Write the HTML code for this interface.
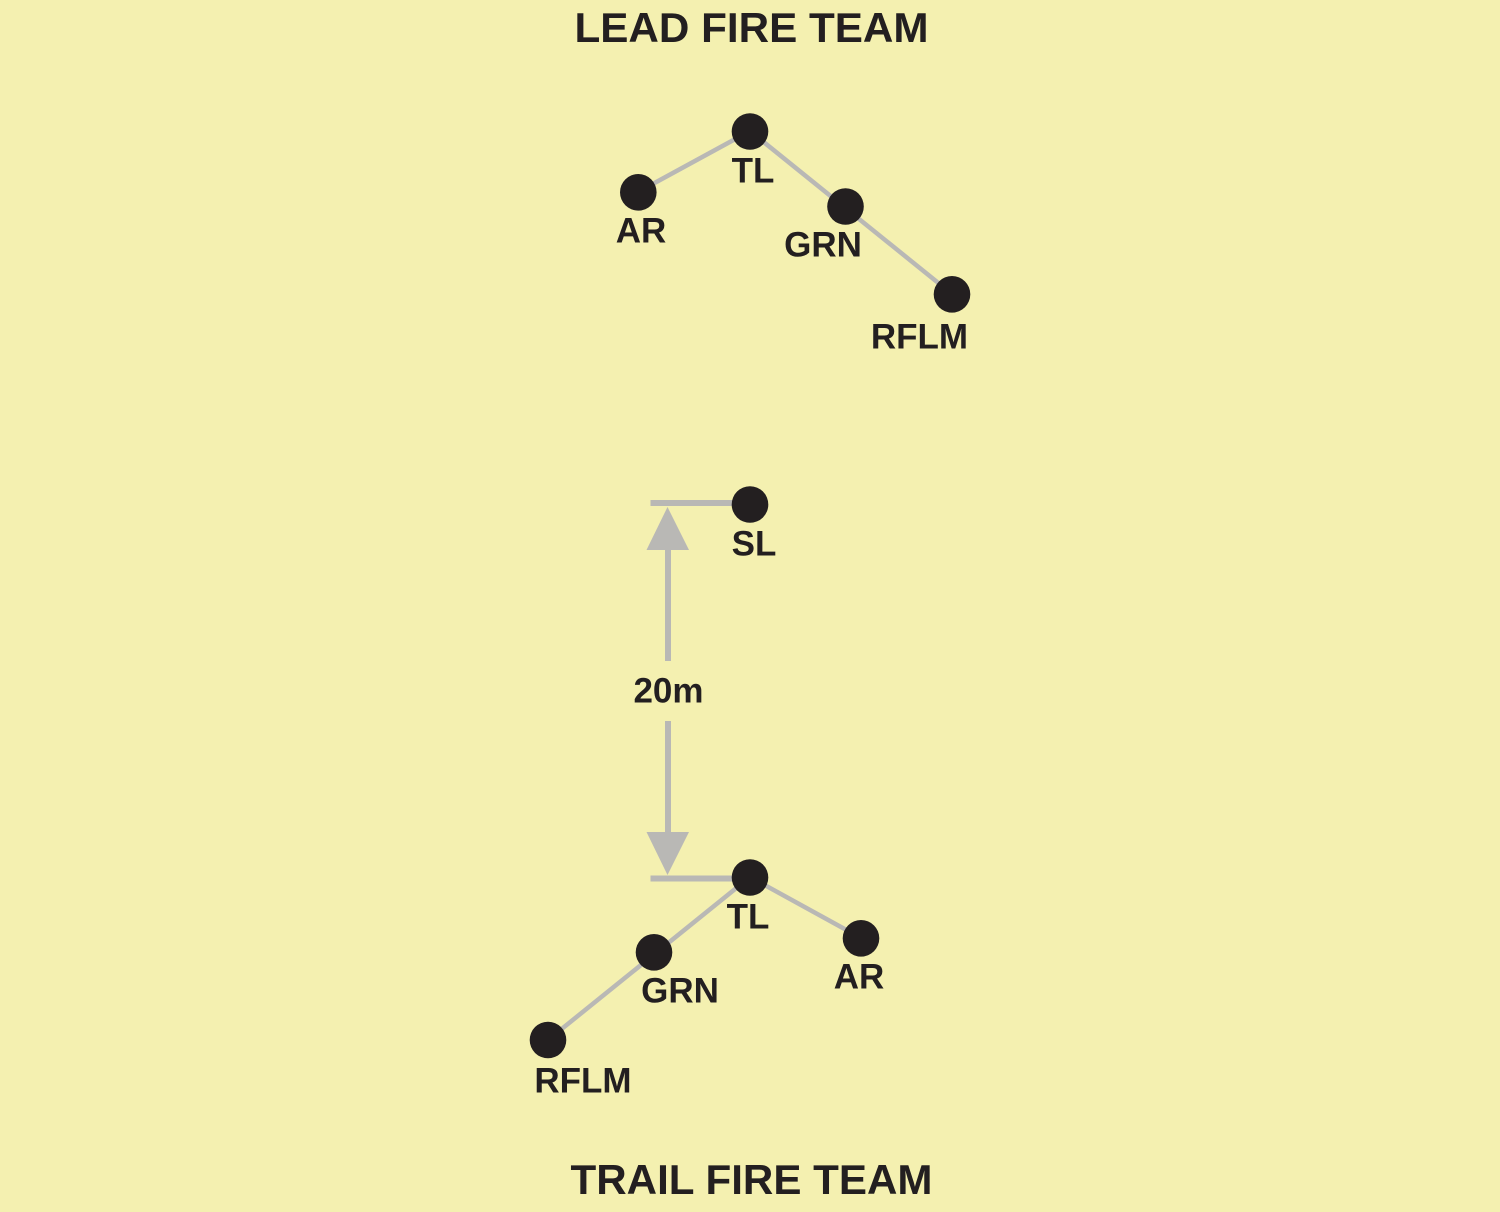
<!DOCTYPE html>
<html>
<head>
<meta charset="utf-8">
<style>
html,body{margin:0;padding:0;background:#f4f0b0;}
svg{display:block;}
text{font-family:"Liberation Sans",Arial,sans-serif;font-weight:bold;fill:#231f20;}
</style>
</head>
<body>
<svg width="1500" height="1212" viewBox="0 0 1500 1212" xmlns="http://www.w3.org/2000/svg">
<rect width="1500" height="1212" fill="#f4f0b0"/>
<g stroke="#b9b8b5" stroke-width="4.500" fill="none">
<line x1="638" y1="192" x2="750" y2="131"/>
<line x1="750" y1="131" x2="952" y2="294"/>
<line x1="861" y1="938" x2="750" y2="877"/>
<line x1="750" y1="877" x2="548" y2="1040"/>
</g>
<g stroke="#b9b8b5" stroke-width="6" fill="none">
<line x1="650.500" y1="503" x2="750" y2="503"/>
<line x1="650.500" y1="878.500" x2="750" y2="878.500"/>
<line x1="668" y1="540" x2="668" y2="661"/>
<line x1="668" y1="721" x2="668" y2="840"/>
</g>
<polygon points="667.500,507 646.500,550 689,550" fill="#b9b8b5"/>
<polygon points="667.500,875 646.500,832 689,832" fill="#b9b8b5"/>
<g fill="#231f20">
<circle cx="750" cy="131.500" r="18.300"/>
<circle cx="638.300" cy="192.300" r="18.300"/>
<circle cx="845.500" cy="206.500" r="18.300"/>
<circle cx="952" cy="294.300" r="18.300"/>
<circle cx="750" cy="504.500" r="18.300"/>
<circle cx="750" cy="877.500" r="18.300"/>
<circle cx="861" cy="938.300" r="18.300"/>
<circle cx="654" cy="952.300" r="18.300"/>
<circle cx="548" cy="1040" r="18.300"/>
</g>
<g font-size="42">
<text x="751.500" y="42" text-anchor="middle" textLength="354" lengthAdjust="spacingAndGlyphs">LEAD FIRE TEAM</text>
<text x="751.500" y="1194" text-anchor="middle" textLength="362" lengthAdjust="spacingAndGlyphs">TRAIL FIRE TEAM</text>
</g>
<g font-size="35">
<text x="753" y="182.700" text-anchor="middle">TL</text>
<text x="641" y="242.700" text-anchor="middle">AR</text>
<text x="823" y="256.700" text-anchor="middle">GRN</text>
<text x="919.500" y="348.500" text-anchor="middle">RFLM</text>
<text x="754" y="555.700" text-anchor="middle">SL</text>
<text x="668.500" y="702.700" text-anchor="middle">20m</text>
<text x="748" y="928.700" text-anchor="middle">TL</text>
<text x="859" y="988.700" text-anchor="middle">AR</text>
<text x="680" y="1002.700" text-anchor="middle">GRN</text>
<text x="583" y="1092.700" text-anchor="middle">RFLM</text>
</g>
</svg>
</body>
</html>
